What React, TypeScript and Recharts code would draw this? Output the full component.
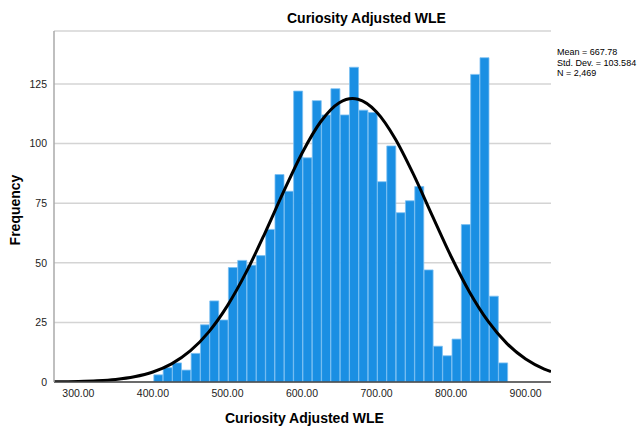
import React from 'react';
import { ComposedChart, Bar, Line, XAxis, YAxis, CartesianGrid } from 'recharts';

// histogram bins (center of each 12.5-wide bin) and counts
const binCenters = [
  407.5, 420, 432.5, 445, 457.5, 470, 482.5, 495, 507.5, 520,
  532.5, 545, 557.5, 570, 582.5, 595, 607.5, 620, 632.5, 645,
  657.5, 670, 682.5, 695, 707.5, 720, 732.5, 745, 757.5, 770,
  782.5, 795, 807.5, 820, 832.5, 845, 857.5, 870,
];
const binCounts = [
  3, 6, 8, 5, 12, 24, 34, 26, 48, 51,
  49, 53, 64, 87, 80, 122, 94, 118, 112, 123,
  112, 132, 114, 113, 84, 99, 71, 76, 82, 47,
  15, 11, 18, 66, 129, 136, 36, 8,
];

// normal curve
const curveX = [
  267.3, 300, 325, 350, 375, 400, 425, 450, 475, 500, 525, 550, 575, 600, 625,
  650, 667.78, 675, 700, 725, 750, 775, 800, 825, 850, 875, 900, 925, 934,
];
const curveY = [
  0.07, 0.22, 0.5, 1.07, 2.19, 4.21, 7.62, 13.04, 21.03, 32.02, 45.96, 62.27, 79.59, 95.96, 109.14,
  117.13, 118.86, 118.57, 113.25, 102.04, 86.74, 69.57, 52.63, 37.56, 25.29, 16.07, 9.63, 5.44, 4.37,
];

const xTicks = [300, 400, 500, 600, 700, 800, 900];
const yTicks = [0, 25, 50, 75, 100, 125];

const bins = binCenters.map((x, i) => ({ x, count: binCounts[i] }));
const curve = curveX.map((x, i) => ({ cx: x, y: curveY[i] }));

const xDomain: [number, number] = [267.3, 934];
const font = '"Liberation Sans", Arial, sans-serif';

export default function App() {
  return (
    <div style={{ position: 'absolute', left: 0, top: 0, width: 642, height: 428, fontFamily: font, background: '#fff' }}>
      <ComposedChart
        width={642}
        height={428}
        data={bins}
        margin={{ top: 31, right: 91, left: 0, bottom: 0 }}
        barCategoryGap={0}
        barGap={0}
      >
        <CartesianGrid vertical={false} stroke="#d4d4d4" strokeWidth={1.5} />
        <XAxis
          dataKey="x"
          type="number"
          domain={xDomain}
          ticks={xTicks}
          tickFormatter={(v: number) => v.toFixed(2)}
          height={46}
          tickLine={false}
          tickSize={6}
          axisLine={{ stroke: '#444', strokeWidth: 1.5 }}
          tick={{ fontSize: 10.5, fill: '#222', fontFamily: font }}
          allowDataOverflow
        />
        <XAxis xAxisId="curve" dataKey="cx" type="number" domain={xDomain} hide allowDataOverflow />
        <YAxis
          type="number"
          domain={[0, 147.2]}
          ticks={yTicks}
          width={54}
          tickLine={false}
          tickSize={5}
          axisLine={{ stroke: '#aaa', strokeWidth: 1.5 }}
          tick={{ fontSize: 10.5, fill: '#222', fontFamily: font }}
          allowDataOverflow
        />
        <Bar dataKey="count" fill="#1a8fe3" stroke="#7cc0f3" strokeWidth={0.8} isAnimationActive={false} />
        <Line
          xAxisId="curve"
          data={curve}
          dataKey="y"
          type="monotone"
          stroke="#000"
          strokeWidth={3}
          dot={false}
          isAnimationActive={false}
        />
      </ComposedChart>
      <div style={{ position: 'absolute', left: 287, top: 10, fontSize: 14, fontWeight: 'bold', color: '#000', whiteSpace: 'nowrap' }}>
        Curiosity Adjusted WLE
      </div>
      <div style={{ position: 'absolute', left: 225, top: 410, fontSize: 14, fontWeight: 'bold', color: '#000', whiteSpace: 'nowrap' }}>
        Curiosity Adjusted WLE
      </div>
      <div
        style={{
          position: 'absolute',
          left: 15,
          top: 210,
          fontSize: 14,
          fontWeight: 'bold',
          color: '#000',
          whiteSpace: 'nowrap',
          transform: 'translate(-50%, -50%) rotate(-90deg)',
        }}
      >
        Frequency
      </div>
      <div style={{ position: 'absolute', left: 557, top: 47, fontSize: 9, lineHeight: '10.5px', color: '#000', whiteSpace: 'nowrap' }}>
        <div>Mean = 667.78</div>
        <div>Std. Dev. = 103.584</div>
        <div>N = 2,469</div>
      </div>
    </div>
  );
}
